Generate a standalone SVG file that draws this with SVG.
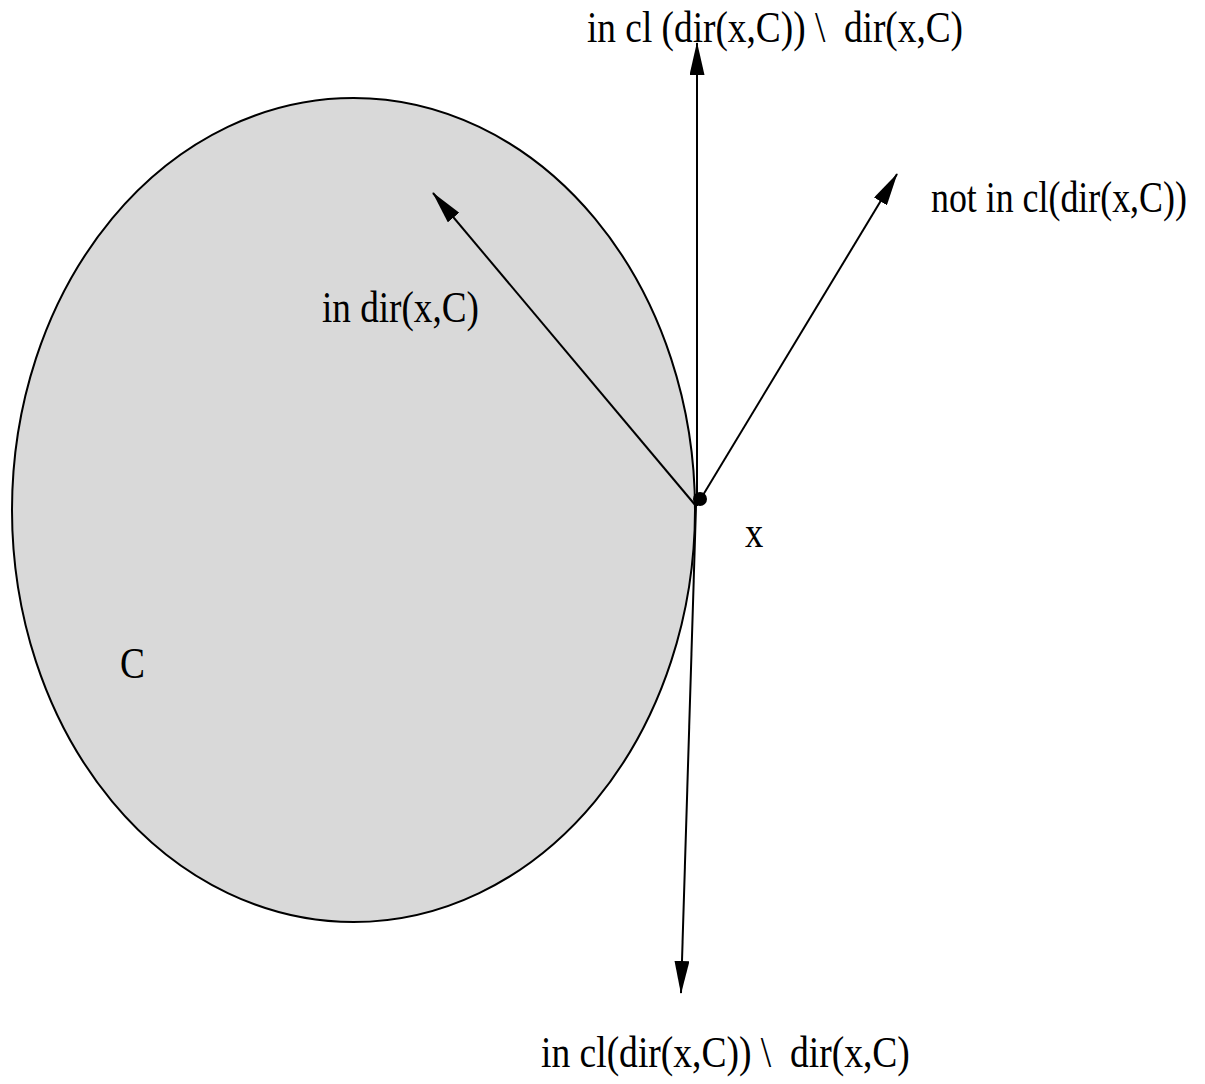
<svg xmlns="http://www.w3.org/2000/svg" width="1205" height="1084" viewBox="0 0 1205 1084">
<style>
text{font-family:"Liberation Serif","Times New Roman",serif;font-size:44px;fill:#000}
.c{stroke:#000;stroke-width:2;fill:none}
</style>
<defs>
<marker id="ah" markerUnits="userSpaceOnUse" markerWidth="33" markerHeight="15" refX="32" refY="7.5" orient="auto">
<path d="M0,0 L33,7.5 L0,15 z" fill="#000"/>
</marker>
</defs>
<rect width="1205" height="1084" fill="#fff"/>
<g id="setC">
<ellipse cx="353.5" cy="510" rx="341.5" ry="412" fill="#d9d9d9" stroke="#000" stroke-width="2"/>
<text transform="translate(120,678) scale(0.85,1)">C</text>
</g>
<g id="connectors">
<line class="c" x1="697" y1="506" x2="697" y2="43" marker-end="url(#ah)"/>
<line class="c" x1="696" y1="506" x2="433" y2="193" marker-end="url(#ah)"/>
<line class="c" x1="697" y1="505" x2="897" y2="174" marker-end="url(#ah)"/>
<line class="c" x1="696" y1="506" x2="681" y2="993" marker-end="url(#ah)"/>
</g>
<g id="pointx">
<circle cx="700" cy="499" r="7" fill="#000"/>
<text transform="translate(745,547) scale(0.83,1)">x</text>
</g>
<g id="labels">
<text transform="translate(587,42) scale(0.848,1)" xml:space="preserve">in cl (dir(x,C)) \  dir(x,C)</text>
<text transform="translate(931,212) scale(0.815,1)">not in cl(dir(x,C))</text>
<text transform="translate(322,322) scale(0.845,1)">in dir(x,C)</text>
<text transform="translate(541,1067) scale(0.853,1)" xml:space="preserve">in cl(dir(x,C)) \  dir(x,C)</text>
</g>
</svg>
